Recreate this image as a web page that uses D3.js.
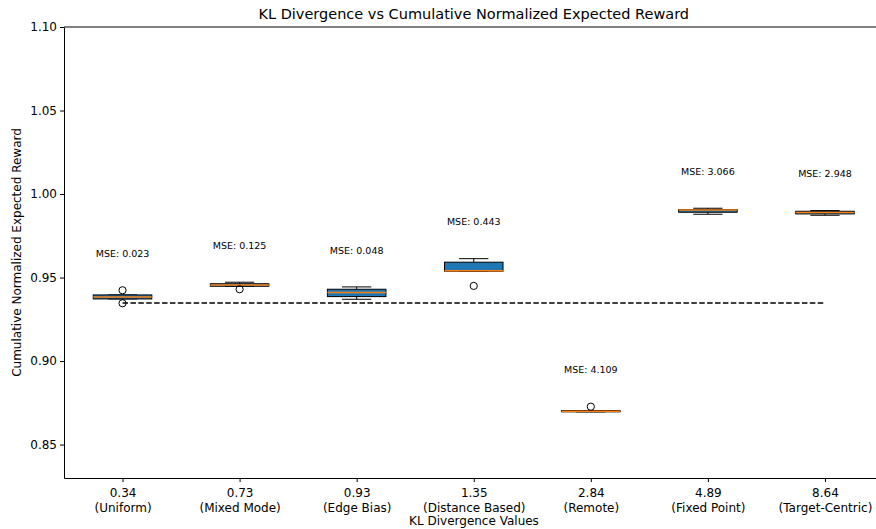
<!DOCTYPE html>
<html>
<head>
<meta charset="utf-8">
<script src="https://cdn.jsdelivr.net/npm/d3@7"></script>
<style>
  body { margin: 0; background: #fff; }
  text { font-family: "DejaVu Sans", sans-serif; fill: #000; }
</style>
</head>
<body>
<div id="chart"></div>
<script>
// categories / tick labels
var klValues = ["0.34", "0.73", "0.93", "1.35", "2.84", "4.89", "8.64"];
var klNames = ["Uniform", "Mixed Mode", "Edge Bias", "Distance Based", "Remote", "Fixed Point", "Target-Centric"];

// box stats
var whiskLow = [0.9372, 0.9448, 0.9370, 0.9538, 0.8696, 0.9879, 0.9873];
var q1 = [0.9372, 0.9448, 0.9386, 0.9538, 0.8696, 0.9891, 0.9881];
var medians = [0.9384, 0.9456, 0.9410, 0.9540, 0.8700, 0.9904, 0.9889];
var q3 = [0.9396, 0.9463, 0.9430, 0.9592, 0.8704, 0.9907, 0.9897];
var whiskHigh = [0.9396, 0.9472, 0.9444, 0.9613, 0.8704, 0.9915, 0.9901];
var outliers = [[0.9424, 0.9346], [0.9430], [], [0.9450], [0.8727], [], []];
var mse = ["0.023", "0.125", "0.048", "0.443", "4.109", "3.066", "2.948"];
var baseline = 0.9348;

var yTicks = [0.85, 0.90, 0.95, 1.00, 1.05, 1.10];

var svg = d3.select("#chart")
    .append("svg")
    .attr("width", 876)
    .attr("height", 529),
    margin = { top: 27, right: -7.5, bottom: 51, left: 64 },
    width = +svg.attr("width") - margin.left - margin.right,
    height = +svg.attr("height") - margin.top - margin.bottom;

var g = svg.append("g")
    .attr("transform", "translate(" + margin.left + "," + margin.top + ")");

var x = d3.scaleLinear()
    .domain([0.5, 7.5])
    .range([0, width]);

var y = d3.scaleLinear()
    .domain([0.83, 1.10])
    .range([height, 0]);

var pos = klValues.map(function (d, i) { return i + 1; });
var boxW = x(1.5) - x(1.25) - x(0.5) + x(0.25); // 0.5 units wide
boxW = x(1.25) - x(0.75);

// y axis
var yAxis = g.append("g")
    .call(d3.axisLeft(y).tickValues(yTicks).tickFormat(d3.format(".2f")).tickSize(4).tickSizeOuter(0));
yAxis.selectAll("text").style("font-size", "12px").attr("x", -7);

// x axis
var xAxis = g.append("g")
    .attr("transform", "translate(0," + height + ")")
    .call(d3.axisBottom(x).tickValues(pos).tickFormat("").tickSize(4).tickSizeOuter(0));
xAxis.selectAll(".tick").each(function (d, i) {
    var t = d3.select(this).append("text")
        .attr("text-anchor", "middle")
        .style("font-size", "12px")
        .attr("y", 19);
    t.append("tspan").attr("x", 0).text(klValues[i]);
    t.append("tspan").attr("x", 0).attr("dy", 14.5).text("(" + klNames[i] + ")");
});
g.selectAll(".domain").attr("stroke", "#000");
g.selectAll(".tick line").attr("stroke", "#000");

// top spine
g.append("line")
    .attr("x1", 0).attr("x2", width)
    .attr("y1", 0).attr("y2", 0)
    .attr("stroke", "#000");

// labels
svg.append("text")
    .attr("x", margin.left + width / 2)
    .attr("y", 19)
    .attr("text-anchor", "middle")
    .style("font-size", "14.5px")
    .text("KL Divergence vs Cumulative Normalized Expected Reward");

svg.append("text")
    .attr("x", 474)
    .attr("y", 525)
    .attr("text-anchor", "middle")
    .style("font-size", "12px")
    .text("KL Divergence Values");

svg.append("text")
    .attr("transform", "rotate(-90)")
    .attr("x", -(margin.top + height / 2))
    .attr("y", 21)
    .attr("text-anchor", "middle")
    .style("font-size", "12px")
    .text("Cumulative Normalized Expected Reward");

// reference line
g.append("line")
    .attr("x1", x(1)).attr("x2", x(7))
    .attr("y1", y(baseline)).attr("y2", y(baseline))
    .attr("stroke", "#000")
    .attr("stroke-width", 1.5)
    .attr("stroke-dasharray", "5.5,2.4");

// boxes
var boxes = g.selectAll(".box")
    .data(pos)
    .enter().append("g")
    .attr("class", "box");

boxes.each(function (p, i) {
    var b = d3.select(this);
    var cx = x(p);
    // whiskers
    b.append("line").attr("x1", cx).attr("x2", cx)
        .attr("y1", y(q3[i])).attr("y2", y(whiskHigh[i])).attr("stroke", "#000");
    b.append("line").attr("x1", cx).attr("x2", cx)
        .attr("y1", y(q1[i])).attr("y2", y(whiskLow[i])).attr("stroke", "#000");
    // caps
    [whiskLow[i], whiskHigh[i]].forEach(function (v) {
        b.append("line")
            .attr("x1", cx - boxW / 4).attr("x2", cx + boxW / 4)
            .attr("y1", y(v)).attr("y2", y(v))
            .attr("stroke", "#000");
    });
    // box
    b.append("rect")
        .attr("x", cx - boxW / 2)
        .attr("y", y(q3[i]))
        .attr("width", boxW)
        .attr("height", Math.max(y(q1[i]) - y(q3[i]), 0.5))
        .attr("fill", "#1f77b4")
        .attr("stroke", "#000");
    // median
    b.append("line")
        .attr("x1", cx - boxW / 2).attr("x2", cx + boxW / 2)
        .attr("y1", y(medians[i])).attr("y2", y(medians[i]))
        .attr("stroke", "#ff7f0e")
        .attr("stroke-width", 1.5);
    // fliers
    outliers[i].forEach(function (v) {
        b.append("circle")
            .attr("cx", cx).attr("cy", y(v))
            .attr("r", 3.6)
            .attr("fill", "none")
            .attr("stroke", "#000");
    });
    // mse label
    var top = d3.max([whiskHigh[i]].concat(outliers[i]));
    b.append("text")
        .attr("x", cx)
        .attr("y", y(top + 0.02))
        .attr("text-anchor", "middle")
        .style("font-size", "9.5px")
        .text("MSE: " + mse[i]);
});
</script>
</body>
</html>
